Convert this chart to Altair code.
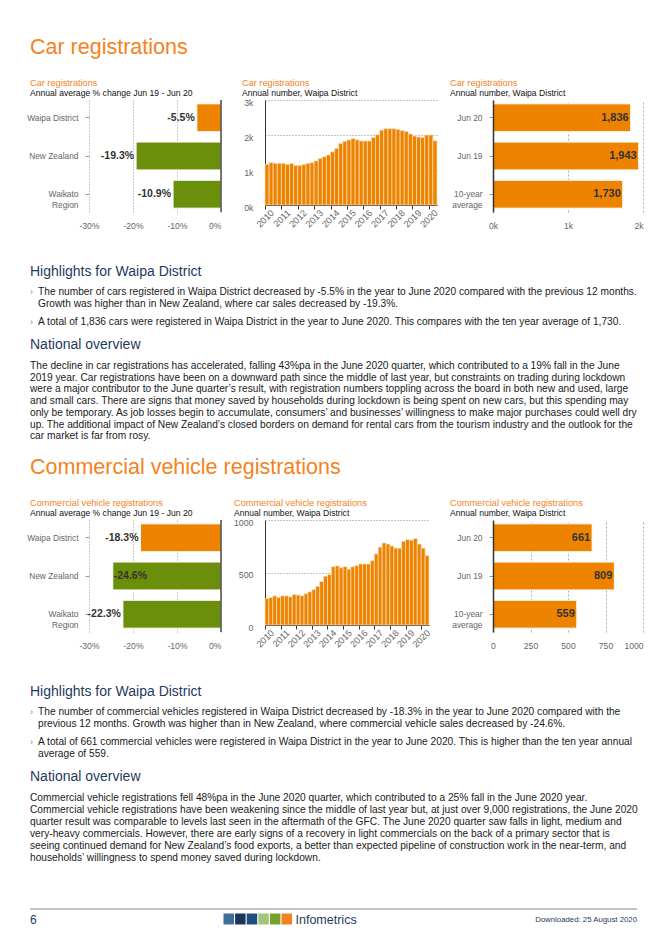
import altair as alt
import pandas as pd

# ---------------- fonts & colours ----------------
SANS = "Liberation Sans, Arial, Helvetica, sans-serif"
HEAD = "Liberation Sans, Arial, Helvetica, sans-serif"
ORANGE = "#EE8300"
GREEN = "#6B8E0B"
TITLE_ORANGE = "#F58220"
NAVY = "#1F3A60"
TEXT = "#1a1a1a"
LABEL = "#666666"
LOGO_COLORS = ["#3F6E9B", "#1B365D", "#1D507F", "#A6C37C", "#78A22F", "#F58220"]

# ---------------- data ----------------
regions = ["Waipa District", "New Zealand", "Waikato Region"]
car_change = [-5.5, -19.3, -10.9]
cv_change = [-18.3, -24.6, -22.3]

periods = ["Jun 20", "Jun 19", "10-year average"]
car_totals = [1836, 1943, 1730]
cv_totals = [661, 809, 559]

years = list(range(2010, 2021))
car_quarterly = [
    1160, 1210, 1190, 1190,
    1190, 1160, 1190, 1130,
    1130, 1160, 1190, 1210,
    1260, 1330, 1380, 1430,
    1520, 1620, 1760, 1820,
    1860, 1900, 1860, 1830,
    1830, 1830, 1930, 2010,
    2140, 2180, 2180, 2180,
    2160, 2130, 2100, 2030,
    1970, 1943, 1930, 2000,
    2000, 1836,
]
cv_quarterly = [
    252, 261, 277, 262,
    277, 277, 268, 290,
    285, 278, 298, 316,
    337, 368, 414, 465,
    480, 555, 563, 545,
    555, 532, 555, 565,
    581, 581, 581, 613,
    677, 742, 781, 771,
    752, 732, 732, 797,
    813, 809, 823, 771,
    732, 661,
]
q_start = [y + 0.25 * q for y in years for q in range(4)][:42]
q_end = [s + 0.25 for s in q_start]

car_bullets = [
    ["The number of cars registered in Waipa District decreased by -5.5% in the year to June 2020 compared with the previous 12 months.",
     "Growth was higher than in New Zealand, where car sales decreased by -19.3%."],
    ["A total of 1,836 cars were registered in Waipa District in the year to June 2020. This compares with the ten year average of 1,730."],
]
car_para = [
    "The decline in car registrations has accelerated, falling 43%pa in the June 2020 quarter, which contributed to a 19% fall in the June",
    "2019 year. Car registrations have been on a downward path since the middle of last year, but constraints on trading during lockdown",
    "were a major contributor to the June quarter\u2019s result, with registration numbers toppling across the board in both new and used, large",
    "and small cars. There are signs that money saved by households during lockdown is being spent on new cars, but this spending may",
    "only be temporary. As job losses begin to accumulate, consumers\u2019 and businesses\u2019 willingness to make major purchases could well dry",
    "up. The additional impact of New Zealand\u2019s closed borders on demand for rental cars from the tourism industry and the outlook for the",
    "car market is far from rosy.",
]
cv_bullets = [
    ["The number of commercial vehicles registered in Waipa District decreased by -18.3% in the year to June 2020 compared with the",
     "previous 12 months. Growth was higher than in New Zealand, where commercial vehicle sales decreased by -24.6%."],
    ["A total of 661 commercial vehicles were registered in Waipa District in the year to June 2020. This is higher than the ten year annual",
     "average of 559."],
]
cv_para = [
    "Commercial vehicle registrations fell 48%pa in the June 2020 quarter, which contributed to a 25% fall in the June 2020 year.",
    "Commercial vehicle registrations have been weakening since the middle of last year but, at just over 9,000 registrations, the June 2020",
    "quarter result was comparable to levels last seen in the aftermath of the GFC. The June 2020 quarter saw falls in light, medium and",
    "very-heavy commercials. However, there are early signs of a recovery in light commercials on the back of a primary sector that is",
    "seeing continued demand for New Zealand\u2019s food exports, a better than expected pipeline of construction work in the near-term, and",
    "households\u2019 willingness to spend money saved during lockdown.",
]

ONE = pd.DataFrame({"k": [0]})
PAGE_X, PAGE_Y = 89, 100   # page position of the first panel's plot area
ROW2 = 420                 # vertical offset of the second section
BODY = 10.2


def text_layer(text, x, y, size, color, font=SANS, weight="normal", align="left",
               line_height=None, ox=PAGE_X, oy=PAGE_Y):
    kw = dict(text=text, fontSize=size, color=color, font=font, fontWeight=weight,
              align=align, baseline="alphabetic")
    if line_height is not None:
        kw["lineHeight"] = line_height
    return alt.Chart(ONE).mark_text(**kw).encode(x=alt.value(x - ox), y=alt.value(y - oy))


def subtitles(title, sub, left, top, tx, ty):
    return [
        text_layer(title, tx, ty, 9.2, TITLE_ORANGE, HEAD, ox=left, oy=top),
        text_layer(sub, tx, ty + 10, 8.6, "#111", SANS, ox=left, oy=top),
    ]


def change_panel(values, title, left, top, ty, cut):
    df = pd.DataFrame({"region": regions, "value": values})
    df["label"] = [f"{v:.1f}%" for v in values]
    y = alt.Y("region:N", sort=regions, title=None,
              scale=alt.Scale(paddingInner=0.27, paddingOuter=0.1),
              axis=alt.Axis(domain=False, tickSize=4, tickColor="#999", labelColor=LABEL,
                            labelFont=SANS, labelFontSize=8.4, labelPadding=7,
                            labelLineHeight=11, labelLimit=200,
                            labelExpr="datum.label == 'Waikato Region' ? ['Waikato', 'Region'] : datum.label"))
    x = alt.X("value:Q", title=None, scale=alt.Scale(domain=[-30, 0], nice=False, zero=False),
              axis=alt.Axis(values=[-30, -20, -10, 0], labelExpr="datum.value + '%'", grid=True,
                            gridDash=[1, 2], gridColor="#999", domain=False, ticks=False,
                            labelPadding=9, labelColor=LABEL, labelFont=SANS, labelFontSize=8.6,
                            labelFlush=False,
                            labelAlign={"condition": {"test": "datum.value == 0", "value": "right"},
                                        "value": "center"}))
    base = alt.Chart(df)
    bars = base.mark_bar(stroke="white", strokeWidth=1).encode(
        x=x, x2=alt.datum(0), y=y,
        color=alt.condition("datum.region == 'Waipa District'", alt.value(ORANGE), alt.value(GREEN)))
    lab_out = base.transform_filter(f"datum.value >= {cut}").mark_text(
        align="right", dx=-2, fontWeight="bold", fontSize=10.5, color="#333", font=SANS
    ).encode(x=x, y=y, text="label:N")
    lab_in = base.transform_filter(f"datum.value < {cut}").mark_text(
        align="left", dx=1, fontWeight="bold", fontSize=10.5, color="#333", font=SANS
    ).encode(x=x, y=y, text="label:N")
    zero = alt.Chart(ONE).mark_rule(color="#333", strokeWidth=1.3).encode(x=alt.datum(0))
    layers = [bars, zero, lab_out, lab_in]
    layers += subtitles(title, "Annual average % change Jun 19 - Jun 20", left, top, 30, ty)
    return layers


def trend_panel(values, width, ymax, yticks, ylabel, title, left, top, ty):
    df = pd.DataFrame({"start": q_start, "end": q_end, "value": values})
    x = alt.X("start:Q", title=None, scale=alt.Scale(domain=[2010, 2020.5], nice=False, zero=False),
              axis=alt.Axis(values=years, format="d", labelAngle=-45, labelAlign="right",
                            labelBaseline="middle", labelOffset=7, labelPadding=2, tickSize=4,
                            tickColor="#333", domainColor="#333", grid=False, labelColor=LABEL,
                            labelFont=SANS, labelFontSize=9.2, labelFlush=False, labelOverlap=False))
    y = alt.Y("value:Q", title=None, scale=alt.Scale(domain=[0, ymax], nice=False),
              axis=alt.Axis(values=yticks, labelExpr=ylabel, grid=True, gridDash=[1, 2],
                            gridColor="#888", ticks=False, domainColor="#333", labelPadding=12,
                            labelOffset=2, labelColor=LABEL, labelFont=SANS, labelFontSize=8.8))
    bars = alt.Chart(df).mark_bar(color=ORANGE, stroke="#FCE0BC", strokeWidth=0.7).encode(
        x=x, x2="end:Q", y=y, y2=alt.datum(0))
    layers = [bars] + subtitles(title, "Annual number, Waipa District", left, top, 234, ty)
    return alt.layer(*layers).properties(width=width, height=105)


def totals_panel(values, xmax, xticks, xlabel, title, left, top, ty):
    df = pd.DataFrame({"period": periods, "value": values})
    y = alt.Y("period:N", sort=periods, title=None,
              scale=alt.Scale(paddingInner=0.27, paddingOuter=0.1),
              axis=alt.Axis(domainColor="#333", domainWidth=1.5, tickSize=4, tickColor="#999",
                            labelColor=LABEL, labelFont=SANS, labelFontSize=8.4, labelPadding=7,
                            labelLineHeight=11, zindex=1,
                            labelExpr="datum.label == '10-year average' ? ['10-year', 'average'] : datum.label"))
    x = alt.X("value:Q", title=None, scale=alt.Scale(domain=[0, xmax], nice=False),
              axis=alt.Axis(values=xticks, labelExpr=xlabel, grid=True, gridDash=[2, 2],
                            gridColor="#aaa", domain=False, ticks=False, labelPadding=9,
                            labelColor=LABEL, labelFont=SANS, labelFontSize=8.6, labelFlush=False,
                            labelAlign={"condition": {"test": f"datum.value == {xmax}", "value": "right"},
                                        "value": "center"}))
    bars = alt.Chart(df).mark_bar(color=ORANGE, stroke="white", strokeWidth=1).encode(x=x, y=y)
    labels = alt.Chart(df).mark_text(align="right", dx=-2, fontWeight="bold", fontSize=11,
                                     color="#333", font=SANS).encode(
        x=x, y=y, text=alt.Text("value:Q", format=","))
    layers = [bars, labels] + subtitles(title, "Annual number, Waipa District", left, top, 442, ty)
    return alt.layer(*layers).properties(width=150, height=112)


def page_layers():
    # invisible frame that pins the page's top-left corner
    frame = alt.Chart(ONE).mark_rect(opacity=0).encode(
        x=alt.value(8 - PAGE_X), x2=alt.value(660 - PAGE_X),
        y=alt.value(8 - PAGE_Y), y2=alt.value(938 - PAGE_Y))
    out = [frame]

    def section(title, title_y, bullets, bullet_y, overview_y, para, para_lh):
        out.append(text_layer(title, 30, title_y, 21.5, TITLE_ORANGE, HEAD))
        out.append(text_layer("Highlights for Waipa District", 30, bullet_y[0] - 18.5, 14, NAVY, HEAD))
        for lines, by in zip(bullets, bullet_y):
            out.append(text_layer("\u203a", 30, by, 9, "#888"))
            out.append(text_layer(lines, 38, by, BODY, TEXT, line_height=12))
        out.append(text_layer("National overview", 30, overview_y, 14, NAVY, HEAD))
        out.append(text_layer(para, 30, overview_y + 20.5, BODY, TEXT, line_height=para_lh))

    section("Car registrations", 54, car_bullets, [294.5, 324.5], 348.5, car_para, 11.7)
    section("Commercial vehicle registrations", 54 + ROW2, cv_bullets, [714.5, 744.5], 780.5, cv_para, 12)

    # footer
    out.append(alt.Chart(ONE).mark_rule(color="#888", strokeWidth=1.2).encode(
        x=alt.value(30 - PAGE_X), x2=alt.value(637 - PAGE_X), y=alt.value(909 - PAGE_Y)))
    out.append(text_layer("6", 30, 923.5, 12, NAVY, HEAD))
    for i, c in enumerate(LOGO_COLORS):
        x0 = 223.5 + i * 11.6
        out.append(alt.Chart(ONE).mark_rect(color=c).encode(
            x=alt.value(x0 - PAGE_X), x2=alt.value(x0 + 10.5 - PAGE_X),
            y=alt.value(913.5 - PAGE_Y), y2=alt.value(924.5 - PAGE_Y)))
    out.append(text_layer("Infometrics", 295.5, 923.5, 12.5, NAVY, HEAD))
    out.append(text_layer("Downloaded: 25 August 2020", 637, 922, 7.8, NAVY, HEAD, align="right"))
    return out


def spacer(w):
    return alt.Chart(ONE).mark_point(opacity=0).encode(
        x=alt.value(0), y=alt.value(0)).properties(width=w, height=112)


car_p1 = alt.layer(*(page_layers() + change_panel(car_change, "Car registrations", 89, 100, 86, -23))
                   ).properties(width=132, height=112)
car_p2 = trend_panel(car_quarterly, 172, 3000, [0, 1000, 2000, 3000],
                     "datum.value / 1000 + 'k'", "Car registrations", 257, 100, 86)
car_p3 = totals_panel(car_totals, 2000, [0, 1000, 2000], "datum.value / 1000 + 'k'",
                      "Car registrations", 485, 100, 86)

cv_p1 = alt.layer(*change_panel(cv_change, "Commercial vehicle registrations", 89, 520, 506, -23)
                  ).properties(width=132, height=112)
cv_p2 = trend_panel(cv_quarterly, 164, 1000, [0, 500, 1000], "'' + datum.value",
                    "Commercial vehicle registrations", 265, 520, 506)
cv_p3 = totals_panel(cv_totals, 1000, [0, 250, 500, 750, 1000], "'' + datum.value",
                     "Commercial vehicle registrations", 485, 520, 506)

chart = alt.ConcatChart(
    concat=[car_p1, spacer(36), car_p2, spacer(56), car_p3,
            cv_p1, spacer(44), cv_p2, spacer(56), cv_p3],
    columns=5,
    spacing={"row": 308, "column": 0},
    bounds="flush",
    align={"row": "all", "column": "none"},
).properties(padding=0).configure_view(stroke=None)

chart.save("out.html", embed_options={"renderer": "svg", "actions": False})
